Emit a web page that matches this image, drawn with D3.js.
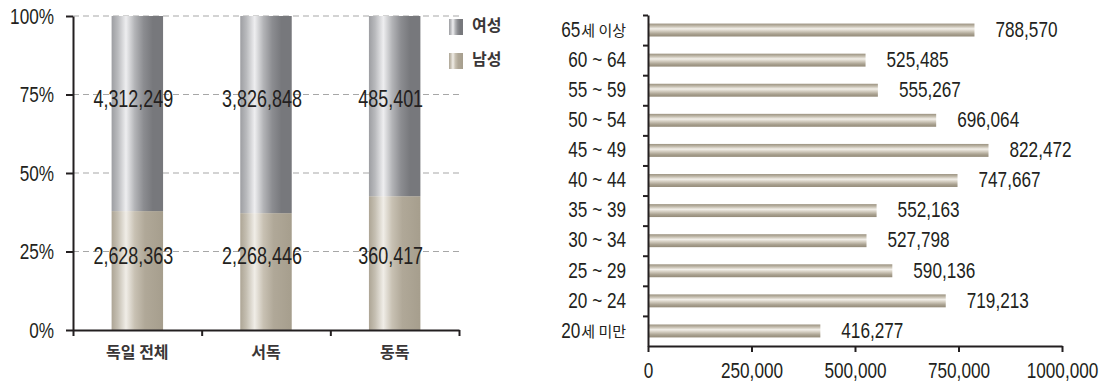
<!DOCTYPE html>
<html>
<head>
<meta charset="utf-8">
<script src="https://cdn.jsdelivr.net/npm/d3@7"></script>
<style>
  body { margin: 0; background: #fff; }
  svg { display: block; }
  .num { font-family: "Liberation Sans", Arial, sans-serif; fill: #231f20; }
  .kor { font-family: "Noto Sans CJK KR", sans-serif; fill: #231f20; }
</style>
</head>
<body>
<svg id="chart" width="1106" height="385"></svg>
<script>
// left chart: population by sex
const regions = ["독일 전체", "서독", "동독"];
const male = [2628363, 2268446, 360417];
const female = [4312249, 3826848, 485401];
const pctTicks = [0, 0.25, 0.5, 0.75, 1];
const pctLabels = ["0%", "25%", "50%", "75%", "100%"];
const sexLegend = ["여성", "남성"];

// right chart: population by age group
const ages = ["65세 이상", "60 ~ 64", "55 ~ 59", "50 ~ 54", "45 ~ 49", "40 ~ 44",
              "35 ~ 39", "30 ~ 34", "25 ~ 29", "20 ~ 24", "20세 미만"];
const agePop = [788570, 525485, 555267, 696064, 822472, 747667,
                552163, 527798, 590136, 719213, 416277];
const popTicks = [0, 250000, 500000, 750000, 1000000];
const popTickLabels = ["0", "250,000", "500,000", "750,000", "1000,000"];

const ink = "#231f20";
const svg = d3.select("#chart");
const defs = svg.append("defs");

function grad(id, stops, vertical) {
    const g = defs.append("linearGradient").attr("id", id)
        .attr("x1", 0).attr("y1", 0)
        .attr("x2", vertical ? 0 : 1).attr("y2", vertical ? 1 : 0);
    stops.forEach(s => g.append("stop").attr("offset", s[0]).attr("stop-color", s[1]));
}
grad("gFemale", [[0, "#9d9ea2"], [0.12, "#b9babd"], [0.28, "#eeeef0"], [0.45, "#b3b4b7"], [0.62, "#8c8d91"], [0.8, "#77787c"], [1, "#77787c"]]);
grad("gMale", [[0, "#ada595"], [0.12, "#c5bfb2"], [0.28, "#f0ede7"], [0.45, "#c8c1b3"], [0.65, "#b0a898"], [1, "#a69e8d"]]);
grad("gAge", [[0, "#9b9280"], [0.2, "#c3bcad"], [0.4, "#f2efe9"], [0.55, "#d9d3c7"], [0.8, "#aaa291"], [1, "#938a78"]], true);

const SQUEEZE = 0.78;
function squeeze(node) {
    const w = node.getComputedTextLength();
    d3.select(node).attr("textLength", w * SQUEEZE).attr("lengthAdjust", "spacingAndGlyphs");
    return w * SQUEEZE;
}

// ---------- left chart ----------
const L = {left: 73, right: 459, top: 16, bottom: 330};
const yPct = d3.scaleLinear().domain([0, 1]).range([L.bottom, L.top]);
const xReg = d3.scaleBand().domain(regions).range([L.left, L.right]);
const barW = xReg.bandwidth() * 0.4;

const left = svg.append("g");

left.selectAll(".grid")
    .data(pctTicks.slice(1))
    .join("line")
    .attr("x1", L.left).attr("x2", 462)
    .attr("y1", d => yPct(d)).attr("y2", d => yPct(d))
    .attr("stroke", "#a7a7a7").attr("stroke-width", 1)
    .attr("stroke-dasharray", "6,4");

const stack = regions.map((r, i) => {
    const tot = male[i] + female[i];
    return {r, m: male[i] / tot, f: female[i] / tot, mv: male[i], fv: female[i]};
});

left.selectAll(".male")
    .data(stack)
    .join("rect")
    .attr("x", d => xReg(d.r) + (xReg.bandwidth() - barW) / 2)
    .attr("width", barW)
    .attr("y", d => yPct(d.m))
    .attr("height", d => yPct(0) - yPct(d.m))
    .attr("fill", "url(#gMale)");

left.selectAll(".female")
    .data(stack)
    .join("rect")
    .attr("x", d => xReg(d.r) + (xReg.bandwidth() - barW) / 2)
    .attr("width", barW)
    .attr("y", yPct(1))
    .attr("height", d => yPct(d.m) - yPct(1))
    .attr("fill", "url(#gFemale)");

const fmt = d3.format(",");
left.selectAll(".flab")
    .data(stack)
    .join("text")
    .attr("class", "num")
    .attr("x", d => xReg(d.r) + xReg.bandwidth() / 2 - 4)
    .attr("y", yPct(0.75) + 6)
    .attr("text-anchor", "middle")
    .attr("dominant-baseline", "middle")
    .style("font-size", "23px")
    .text(d => fmt(d.fv));

left.selectAll(".mlab")
    .data(stack)
    .join("text")
    .attr("class", "num")
    .attr("x", d => xReg(d.r) + xReg.bandwidth() / 2 - 4)
    .attr("y", yPct(0.25) + 6)
    .attr("text-anchor", "middle")
    .attr("dominant-baseline", "middle")
    .style("font-size", "23px")
    .text(d => fmt(d.mv));

// axes
left.append("g")
    .attr("transform", `translate(${L.left},0)`)
    .call(d3.axisLeft(yPct).tickValues(pctTicks).tickSizeInner(7).tickSizeOuter(0)
        .tickPadding(12).tickFormat((d, i) => pctLabels[i]));

const xEdge = d3.scaleLinear().domain([0, regions.length]).range([L.left, L.right]);
left.append("g")
    .attr("transform", `translate(0,${L.bottom})`)
    .call(d3.axisBottom(xEdge).tickValues(d3.range(regions.length + 1))
        .tickSizeInner(6).tickSizeOuter(0).tickFormat(""));

left.selectAll(".cat")
    .data(regions)
    .join("text")
    .attr("class", "kor")
    .attr("x", d => xReg(d) + xReg.bandwidth() / 2)
    .attr("y", 354)
    .attr("text-anchor", "middle")
    .attr("dominant-baseline", "middle")
    .style("font-size", "16px")
    .style("font-weight", "bold")
    .style("fill", "#3a3637")
    .text(d => d);

// legend
const leg = left.selectAll(".leg")
    .data(sexLegend)
    .join("g")
    .attr("transform", (d, i) => `translate(449,${19 + i * 34})`);
leg.append("rect")
    .attr("width", 14).attr("height", 16)
    .attr("fill", (d, i) => i === 0 ? "url(#gFemale)" : "url(#gMale)");
leg.append("text")
    .attr("class", "kor")
    .attr("x", 23).attr("y", 8)
    .attr("dominant-baseline", "middle")
    .style("font-size", "16px")
    .style("font-weight", "bold")
    .style("fill", "#3a3637")
    .text(d => d);

// ---------- right chart ----------
const R = {left: 648, right: 1062, top: 15, bottom: 346};
const xPop = d3.scaleLinear().domain([0, 1000000]).range([R.left, R.right]);
const yAge = d3.scaleBand().domain(ages).range([R.top, R.bottom]).paddingInner(0.57).paddingOuter(0.285);

const right = svg.append("g");

right.selectAll(".abar")
    .data(ages)
    .join("rect")
    .attr("x", xPop(0))
    .attr("y", d => yAge(d))
    .attr("width", (d, i) => xPop(agePop[i]) - xPop(0))
    .attr("height", yAge.bandwidth())
    .attr("fill", "url(#gAge)");

right.selectAll(".alab")
    .data(ages)
    .join("text")
    .attr("class", "num")
    .attr("x", (d, i) => xPop(agePop[i]) + 21)
    .attr("y", d => yAge(d) + yAge.bandwidth() / 2 + 1)
    .attr("dominant-baseline", "middle")
    .style("font-size", "22px")
    .text((d, i) => fmt(agePop[i]));

const yEdge = d3.scaleLinear().domain([0, ages.length]).range([R.top, R.bottom]);
right.append("g")
    .attr("transform", `translate(${R.left},0)`)
    .call(d3.axisLeft(yEdge).tickValues(d3.range(ages.length)).tickSizeInner(5)
        .tickSizeOuter(0).tickFormat(""));

right.append("g")
    .attr("transform", `translate(0,${R.bottom})`)
    .call(d3.axisBottom(xPop).tickValues(popTicks).tickSizeInner(6).tickSizeOuter(0)
        .tickPadding(10).tickFormat((d, i) => popTickLabels[i]));

// age labels: hangul part (small) placed at the right edge, number part before it
const catX = 626;
right.selectAll(".agecat")
    .data(ages)
    .join("g")
    .attr("transform", d => `translate(${catX},${yAge(d) + yAge.bandwidth() / 2 + 1})`)
    .each(function(d) {
        const g = d3.select(this);
        const m = d.match(/^(\d+)(.*)$/);
        let numText = d, korW = 0;
        if (m && /[가-힣]/.test(m[2])) {
            numText = m[1];
            const k = g.append("text")
                .attr("class", "kor")
                .attr("text-anchor", "end")
                .attr("dominant-baseline", "middle")
                .attr("y", 1)
                .style("font-size", "15px")
                .text(m[2].trim());
            korW = k.node().getComputedTextLength() + 1;
        }
        g.append("text")
            .attr("class", "num ageNum")
            .attr("x", -korW)
            .attr("text-anchor", "end")
            .attr("dominant-baseline", "middle")
            .style("font-size", "22px")
            .text(numText);
    });

// axis styling
svg.selectAll(".domain").attr("stroke", ink).attr("stroke-width", 2);
svg.selectAll(".tick line").attr("stroke", ink).attr("stroke-width", 2);
svg.selectAll(".tick text").attr("class", "num").style("font-size", "22px").attr("fill", ink);

// squeeze the number font to look like a condensed face
svg.selectAll("text.num").each(function() { squeeze(this); });
</script>
</body>
</html>
